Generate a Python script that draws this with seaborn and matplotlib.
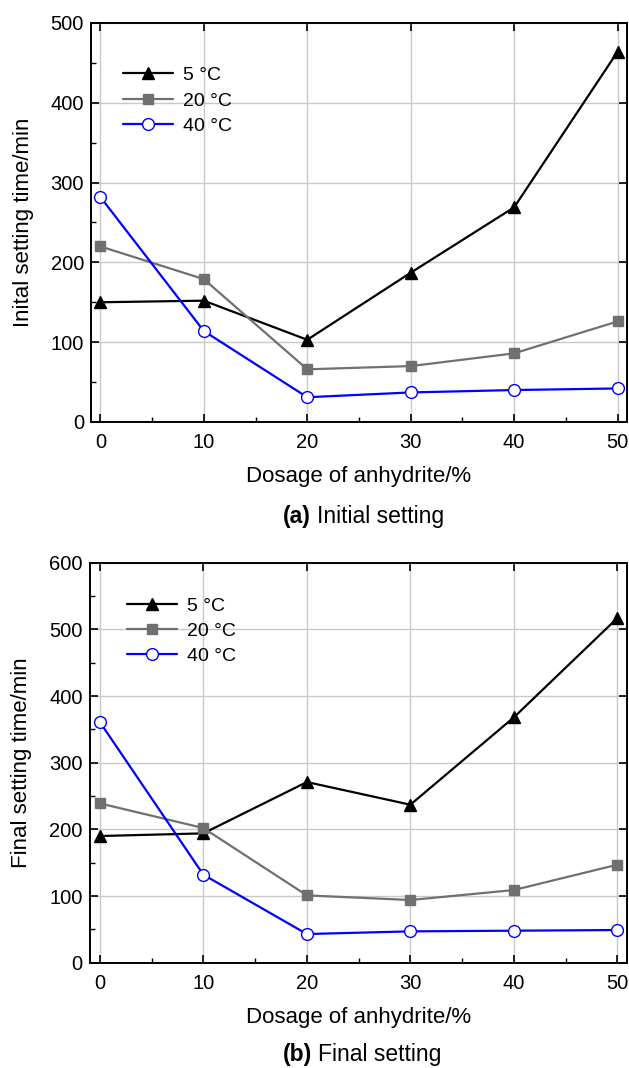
import matplotlib
matplotlib.use("Agg")
import matplotlib.pyplot as plt
import seaborn as sns
import pandas as pd
from matplotlib.ticker import MultipleLocator
from matplotlib.lines import Line2D

sns.set_theme(style="white")
plt.rcParams['font.family'] = ['Liberation Sans', 'DejaVu Sans']
plt.rcParams['text.color'] = 'black'
plt.rcParams['axes.labelcolor'] = 'black'

dosage = [0, 10, 20, 30, 40, 50]
series_labels = ["5 °C", "20 °C", "40 °C"]

initial_5 = [150, 152, 103, 187, 269, 464]
initial_20 = [220, 179, 66, 70, 86, 126]
initial_40 = [282, 114, 31, 37, 40, 42]

final_5 = [190, 194, 271, 237, 368, 517]
final_20 = [239, 202, 101, 94, 109, 147]
final_40 = [361, 132, 43, 47, 48, 49]

styles = [
    dict(color="black", marker="^", markersize=9, markerfacecolor="black", markeredgecolor="black"),
    dict(color="#707070", marker="s", markersize=7.5, markerfacecolor="#707070", markeredgecolor="#707070"),
    dict(color="#0000ff", marker="o", markersize=8.5, markerfacecolor="white", markeredgecolor="#0000ff"),
]

fig = plt.figure(figsize=(6.29, 10.68), dpi=100)
ax1 = fig.add_axes([0.1447, 0.6049, 0.852, 0.3736])
ax2 = fig.add_axes([0.1423, 0.0986, 0.854, 0.3745])


def draw(ax, series, ylim, ymajor, ylabel, xlim, legend_anchor):
    for vals, lab, st in zip(series, series_labels, styles):
        df = pd.DataFrame({"x": dosage, "y": vals})
        sns.lineplot(data=df, x="x", y="y", ax=ax, color=st["color"], linewidth=1.6,
                     marker=st["marker"], markersize=st["markersize"],
                     markerfacecolor=st["markerfacecolor"], markeredgecolor=st["markeredgecolor"],
                     markeredgewidth=1.0, label=lab, legend=False)
    ax.set_xlim(*xlim)
    ax.set_ylim(*ylim)
    ax.xaxis.set_major_locator(MultipleLocator(10))
    ax.xaxis.set_minor_locator(MultipleLocator(5))
    ax.yaxis.set_major_locator(MultipleLocator(ymajor))
    ax.yaxis.set_minor_locator(MultipleLocator(ymajor / 2))
    ax.grid(True, which="major", color="#c8c8c8", linewidth=1.0)
    ax.set_axisbelow(True)
    for s in ax.spines.values():
        s.set_color("black")
        s.set_linewidth(1.4)
        s.set_visible(True)
    ax.tick_params(which="major", direction="in", length=6, width=1.2, color="black",
                   top=True, right=True, bottom=True, left=True, labelsize=14.5,
                   labelcolor="black")
    ax.tick_params(axis="x", which="major", pad=8)
    ax.tick_params(axis="y", which="major", pad=5)
    ax.tick_params(which="minor", direction="in", length=3.5, width=1.0, color="black",
                   bottom=True, left=True, top=False, right=False)
    ax.set_xlabel("Dosage of anhydrite/%", fontsize=16, labelpad=10, color="black")
    ax.set_ylabel(ylabel, fontsize=16, labelpad=12, color="black")
    handles = [Line2D([], [], color=st["color"], linewidth=1.6, marker=st["marker"],
                      markersize=st["markersize"], markerfacecolor=st["markerfacecolor"],
                      markeredgecolor=st["markeredgecolor"]) for st in styles]
    leg = ax.legend(handles, series_labels, loc="upper left", bbox_to_anchor=legend_anchor,
                    frameon=False, fontsize=14, handlelength=2.6, handletextpad=0.5,
                    labelspacing=0.4, borderaxespad=0)
    for t in leg.get_texts():
        t.set_color("black")


draw(ax1, [initial_5, initial_20, initial_40], (0, 500), 100, "Inital setting time/min",
     (-0.9, 50.9), (0.045, 0.91))
draw(ax2, [final_5, final_20, final_40], (0, 600), 100, "Final setting time/min",
     (-1.0, 50.9), (0.055, 0.934))

fig.text(311 / 629, 1 - 516 / 1068, "(a)", ha="right", va="center", fontsize=16.5,
         fontweight="bold", color="black")
fig.text(317 / 629, 1 - 516 / 1068, "Initial setting", ha="left", va="center", fontsize=16.5,
         color="black")
fig.text(312 / 629, 1 - 1054 / 1068, "(b)", ha="right", va="center", fontsize=16.5,
         fontweight="bold", color="black")
fig.text(318 / 629, 1 - 1054 / 1068, "Final setting", ha="left", va="center", fontsize=16.5,
         color="black")

fig.savefig("out.png", dpi=100)
